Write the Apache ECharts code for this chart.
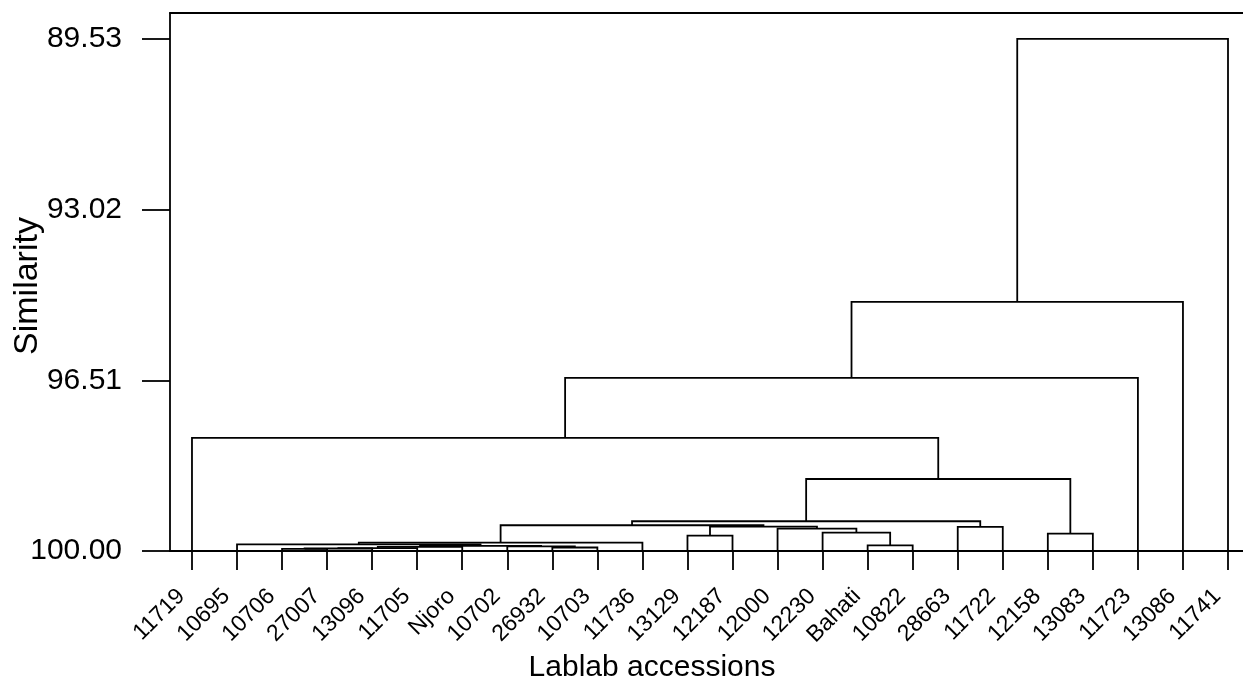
<!DOCTYPE html>
<html><head><meta charset="utf-8">
<script src="https://cdn.jsdelivr.net/npm/echarts@6/dist/echarts.min.js"></script>
<style>html,body{margin:0;padding:0;background:#fff}#c{width:1243px;height:688px}</style>
</head><body><div id="c"></div>
<script>
// Leaf labels (left to right)
const leaves = ['11719','10695','10706','27007','13096','11705','Njoro','10702','26932','10703','11736',
  '13129','12187','12000','12230','Bahati','10822','28663','11722','12158','13083','11723','13086','11741'];
// Linkage: children are leaf indices (0..23) or merge ids (24 + k)
const linkLeft  = [2, 24, 25, 26, 8, 7, 27, 1, 31, 11, 15, 14, 13, 33, 32, 17, 38, 19, 40, 0, 43, 44, 45];
const linkRight = [3, 4, 5, 6, 9, 28, 29, 30, 10, 12, 16, 34, 35, 36, 37, 18, 39, 20, 41, 42, 21, 22, 23];
const linkHeight = [99.955, 99.949, 99.943, 99.914, 99.928, 99.904, 99.894, 99.863, 99.830, 99.687,
  99.883, 99.626, 99.541, 99.503, 99.474, 99.507, 99.392, 99.646, 98.528, 97.689, 96.462, 94.908, 89.530];
const yTicks = [89.53, 93.02, 96.51, 100.00];

const FONT = 'Liberation Sans, Arial, sans-serif';
const pos = leaves.map((_, i) => i);
const hgt = leaves.map(() => 100);
const segs = [];
for (let k = 0; k < linkHeight.length; k++) {
  const a = linkLeft[k], b = linkRight[k], h = linkHeight[k];
  segs.push([pos[a], hgt[a], pos[b], hgt[b], h]);
  pos.push((pos[a] + pos[b]) / 2);
  hgt.push(h);
}
const leafIdx = leaves.map((_, i) => i);
const LW = 1.8;

const chart = echarts.init(document.getElementById('c'), null, {renderer: 'canvas'});
chart.setOption({
  animation: false,
  backgroundColor: '#fff',
  grid: {left: 170, right: 0, top: 13, bottom: 137, containLabel: false, outerBoundsMode: 'none'},
  xAxis: [{
    type: 'value', min: -0.488, max: 23.333, position: 'bottom',
    splitLine: {show: false},
    axisLine: {show: true, onZero: false, lineStyle: {color: '#000', width: LW}},
    axisTick: {show: true, customValues: leafIdx, length: 19, lineStyle: {color: '#000', width: LW}},
    axisLabel: {show: true, customValues: leafIdx, formatter: v => leaves[Math.round(v)], rotate: 45,
      fontSize: 23, fontFamily: FONT, color: '#000', margin: 31, padding: [0, 15, 0, 0], hideOverlap: false},
    name: 'Lablab accessions', nameLocation: 'middle', nameGap: 102, nameMoveOverlap: false,
    nameTextStyle: {fontSize: 30, fontFamily: FONT, color: '#000', padding: [0, 109, 0, 0]}
  }, {
    type: 'value', min: -0.488, max: 23.333, position: 'top',
    splitLine: {show: false},
    axisLine: {show: true, onZero: false, lineStyle: {color: '#000', width: LW}},
    axisTick: {show: false}, axisLabel: {show: false}
  }],
  yAxis: {
    type: 'value', inverse: true, min: 89.0, max: 100,
    splitLine: {show: false},
    axisLine: {show: true, onZero: false, lineStyle: {color: '#000', width: LW}},
    axisTick: {show: true, customValues: yTicks, length: 28, lineStyle: {color: '#000', width: LW}},
    axisLabel: {show: true, customValues: yTicks, formatter: v => Number(v).toFixed(2),
      fontSize: 30, fontFamily: FONT, color: '#000', margin: 48},
    name: 'Similarity', nameLocation: 'middle', nameGap: 125, nameRotate: 90, nameMoveOverlap: false,
    nameTextStyle: {fontSize: 34, fontFamily: FONT, color: '#000', padding: [0, 8, 0, 0]}
  },
  series: [{
    type: 'custom',
    xAxisIndex: 0, yAxisIndex: 0,
    data: segs,
    encode: {x: [0, 2], y: [1, 3, 4]},
    clip: false,
    renderItem: (params, api) => {
      const p1 = api.coord([api.value(0), api.value(1)]);
      const p2 = api.coord([api.value(0), api.value(4)]);
      const p3 = api.coord([api.value(2), api.value(4)]);
      const p4 = api.coord([api.value(2), api.value(3)]);
      return {type: 'polyline', shape: {points: [p1, p2, p3, p4]},
        style: {stroke: '#000', lineWidth: LW, fill: null}};
    }
  }]
});
</script></body></html>
